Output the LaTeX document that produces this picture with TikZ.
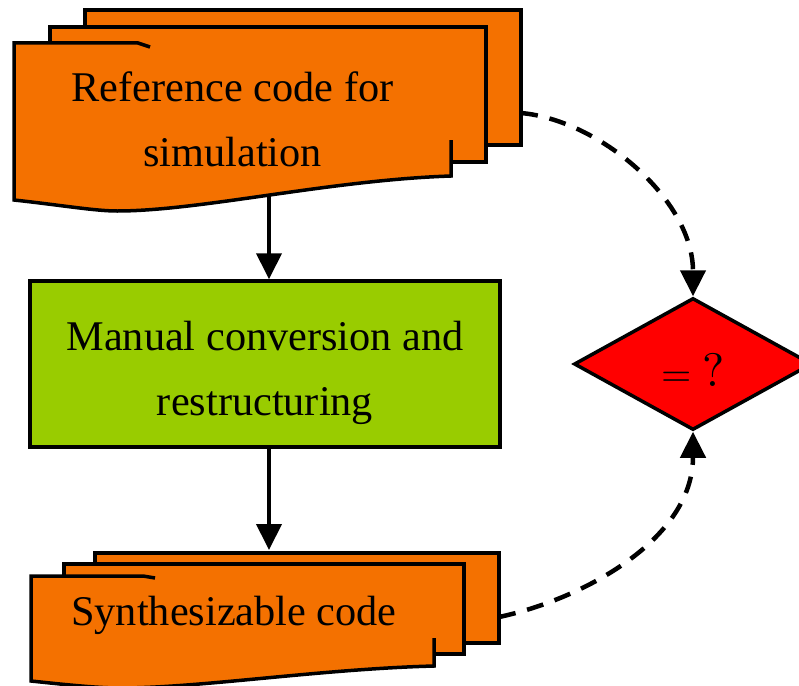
\documentclass[tikz,border=0pt]{standalone}
\usepackage{fontspec}
\setmainfont{Liberation Serif}
\newfontfamily\eqfont{lmroman10-regular.otf}
\usetikzlibrary{arrows.meta,shapes.geometric,fit}
\definecolor{docorange}{HTML}{F47100}
\definecolor{stepgreen}{HTML}{99CC00}
\definecolor{checkred}{HTML}{FF0000}
\pgfdeclarelayer{background}
\pgfsetlayers{background,main}
\begin{document}
\begin{tikzpicture}[x=1pt,y=-1pt,
  sheet/.style={fill=docorange,draw=black,line width=3.5pt},
  sheetedge/.style={draw=black,line width=3.5pt},
  doctext/.style={font=\fontsize{42.3}{65}\selectfont,align=center,inner sep=0pt,anchor=base},
  ghost/.style={draw=none,inner sep=0pt,outer sep=0pt},
  stepbox/.style={rectangle,fill=stepgreen,draw=black,line width=3.5pt,
    minimum width=470pt,minimum height=166pt,inner sep=0pt},
  decision/.style={diamond,fill=checkred,draw=black,line width=3.5pt,
    minimum width=238pt,minimum height=132pt,inner sep=0pt},
  flow/.style={line width=4pt,-{Triangle[width=25pt,length=26pt]}},
  check/.style={flow,line width=4.5pt,dash pattern=on 17pt off 12pt}
]
\useasboundingbox (0,0) rectangle (799,685);
\clip (0,0) rectangle (799,685);

% reference code: stack of three sheets
\draw[sheet] (85,10) rectangle (521,145);
\draw[sheet] (50,27) rectangle (486,162);
\fill[docorange] (14,43) -- (451,43) -- (451,176)
  .. controls (330,180) and (200,211) .. (117,211)
  .. controls (95,211) and (60,205) .. (14,200) -- cycle;
\draw[sheetedge] (150,47) -- (138,43) -- (14,43) -- (14,200)
  .. controls (60,205) and (95,211) .. (117,211)
  .. controls (200,211) and (330,180) .. (451,176) -- (451,140);
\node[ghost,fit={(14,10) (521,216)}] (refdoc) {};
% base anchor sits on the last line
\node[doctext] (reftext) at (232.5,166) {Reference code for\\simulation};

% conversion step
\node[stepbox] (conv) at (265,364) {};
\node[doctext] (convtext) at (265,415) {Manual conversion and\\restructuring};

% synthesizable code: stack of three sheets
\draw[sheet] (95,553) rectangle (499,643);
\draw[sheet] (64,564) rectangle (464,654);
\fill[docorange] (31,576) -- (434,576) -- (434,666)
  .. controls (320,669) and (200,688) .. (120,688)
  .. controls (95,688) and (60,684) .. (31,681) -- cycle;
\draw[sheetedge] (155,578) -- (143,576) -- (31,576) -- (31,681)
  .. controls (60,684) and (95,688) .. (120,688)
  .. controls (200,688) and (320,669) .. (434,666) -- (434,638);
\node[ghost,fit={(31,553) (499,681)}] (syndoc) {};
\node[doctext] (syntext) at (234,625) {Synthesizable code};

% comparison
\node[decision] (cmp) at (693,364) {};
\node[inner sep=0pt,anchor=base] (cmptext) at (693,386)
  {\eqfont{\fontsize{39}{48}\selectfont =}\hspace{11pt}{\fontsize{47}{56}\selectfont ?}};

% connectors
\begin{pgfonlayer}{background}
\draw[flow] ([xshift=1.5pt]refdoc.center) -- ([xshift=1.5pt]refdoc.center |- conv.north);
\draw[flow,shorten >=3pt] ([xshift=4pt]conv.south) -- ([xshift=4pt]conv.south |- syndoc.north);
\draw[check] (refdoc.east) .. controls +(78,7) and +(0,-97) .. (cmp.north);
\draw[check] (syndoc.east) .. controls +(81,-17) and +(0,109) .. (cmp.south);
\end{pgfonlayer}
\end{tikzpicture}
\end{document}
